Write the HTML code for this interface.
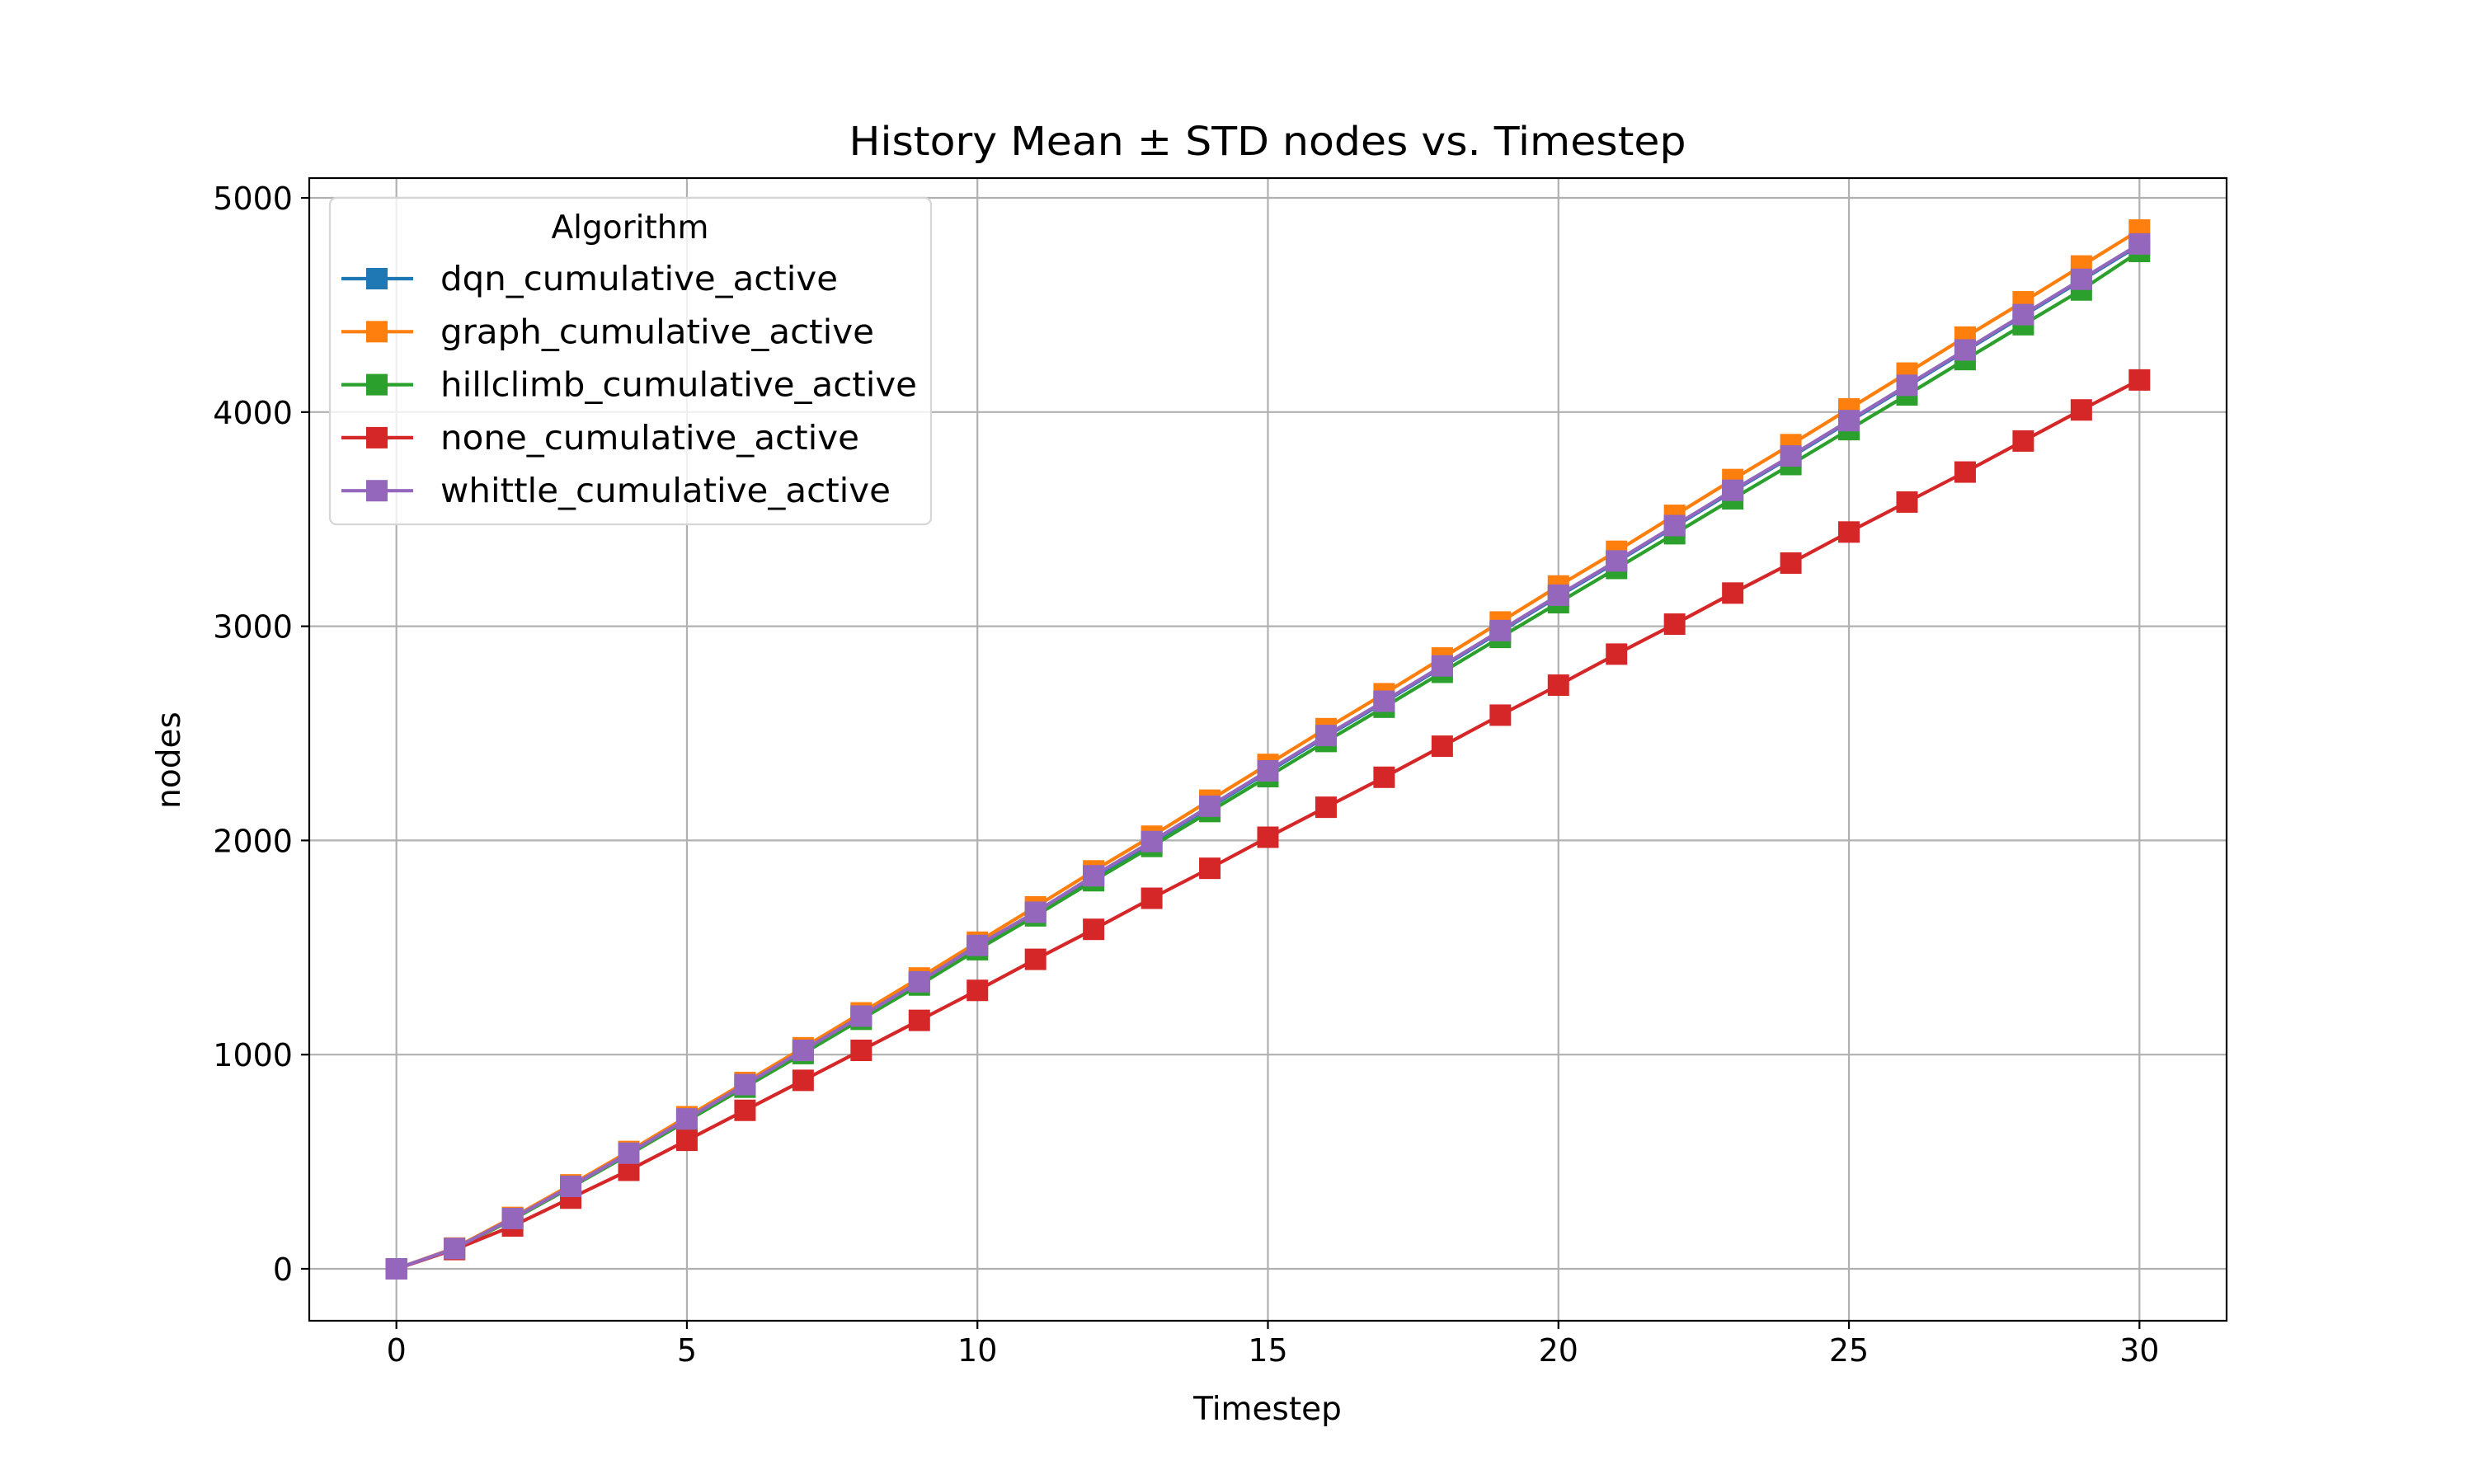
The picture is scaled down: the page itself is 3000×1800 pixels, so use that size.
<!DOCTYPE html>
<html><head><meta charset="utf-8"><style>
html,body{margin:0;padding:0;background:#fff}
svg{display:block;font-family:"DejaVu Sans","Liberation Sans",sans-serif}
</style></head><body>
<svg id="chart" width="3000" height="1800" viewBox="0 0 3000 1800" xmlns="http://www.w3.org/2000/svg">
<rect width="3000" height="1800" fill="#fff"/>
<g id="grid"></g>
<g id="series"></g>
<rect x="375" y="216" width="2325" height="1386" fill="none" stroke="#000" stroke-width="2.2"/>
<g id="ticks"></g>
<text x="1537" y="188" font-size="48" text-anchor="middle" textLength="1015" lengthAdjust="spacingAndGlyphs">History Mean ± STD nodes vs. Timestep</text>
<text x="1537" y="1722" font-size="39" text-anchor="middle">Timestep</text>
<text x="0" y="0" font-size="39" text-anchor="middle" transform="translate(218,922) rotate(-90)">nodes</text>
<g id="legend"></g>
</svg>
<script>
const timesteps = [0,1,2,3,4,5,6,7,8,9,10,11,12,13,14,15,16,17,18,19,20,21,22,23,24,25,26,27,28,29,30];
const dqnValues = [0,95,235,385,540,700,860,1020,1180,1340,1505,1665,1830,1990,2155,2320,2485,2645,2810,2975,3140,3300,3465,3630,3790,3955,4120,4285,4450,4615,4780];
const graphValues = [0,97,240,392,548,710,870,1032,1195,1358,1525,1690,1858,2020,2188,2355,2522,2685,2852,3020,3188,3350,3518,3685,3848,4015,4182,4350,4515,4682,4850];
const hillclimbValues = [0,93,230,380,533,690,848,1005,1165,1325,1490,1648,1812,1972,2135,2298,2462,2622,2785,2948,3110,3270,3432,3595,3755,3918,4080,4245,4408,4570,4750];
const noneValues = [0,90,200,330,460,600,740,880,1020,1160,1300,1445,1585,1730,1870,2015,2155,2295,2440,2585,2725,2870,3010,3155,3295,3440,3580,3720,3865,4010,4150];
const whittleValues = [0,95,235,385,540,700,860,1020,1180,1340,1510,1665,1835,1995,2160,2325,2490,2650,2815,2980,3145,3305,3470,3635,3795,3960,4125,4290,4455,4620,4785];
const seriesNames = ["dqn_cumulative_active","graph_cumulative_active","hillclimb_cumulative_active","none_cumulative_active","whittle_cumulative_active"];
const seriesColors = ["#1f77b4","#ff7f0e","#2ca02c","#d62728","#9467bd"];
const xTicks = [0,5,10,15,20,25,30];
const yTicks = [0,1000,2000,3000,4000,5000];

const NS="http://www.w3.org/2000/svg";
const L=375,R=2700,T=216,B=1602;
const allVals=[].concat(dqnValues,graphValues,hillclimbValues,noneValues,whittleValues);
const dMin=Math.min(...allVals),dMax=Math.max(...allVals);
const yMin=dMin-(dMax-dMin)*0.05,yMax=dMax+(dMax-dMin)*0.05;
const xMin=timesteps[0]-(timesteps[timesteps.length-1]-timesteps[0])*0.05;
const xMax=timesteps[timesteps.length-1]+(timesteps[timesteps.length-1]-timesteps[0])*0.05;
const sx=v=>L+(v-xMin)/(xMax-xMin)*(R-L);
const sy=v=>B-(v-yMin)/(yMax-yMin)*(B-T);
function mk(tag,attrs,parent){const e=document.createElementNS(NS,tag);for(const k in attrs)e.setAttribute(k,attrs[k]);parent.appendChild(e);return e;}
const grid=document.getElementById('grid'),ticks=document.getElementById('ticks');
xTicks.forEach(t=>{
  const g=mk('line',{x1:sx(t),x2:sx(t),y1:T,y2:B,stroke:'#b0b0b0','stroke-width':2.2},grid);
  
  
  const tk=mk('line',{x1:sx(t),x2:sx(t),y1:B,y2:B+10,stroke:'#000','stroke-width':2.2},ticks);
  
  
  const tx=mk('text',{x:sx(t),y:B+49,'font-size':38,'text-anchor':'middle'},ticks);
  tx.textContent=t;
  
  
});
yTicks.forEach(t=>{
  const g=mk('line',{x1:L,x2:R,y1:sy(t),y2:sy(t),stroke:'#b0b0b0','stroke-width':2.2},grid);
  
  
  const tk=mk('line',{x1:L-10,x2:L,y1:sy(t),y2:sy(t),stroke:'#000','stroke-width':2.2},ticks);
  
  
  const tx=mk('text',{x:L-20,y:sy(t)+14,'font-size':38,'text-anchor':'end'},ticks);
  tx.textContent=t;
  
  
});
const seriesData=[dqnValues,graphValues,hillclimbValues,noneValues,whittleValues];
const sg=document.getElementById('series');
seriesData.forEach((vals,i)=>{
  const g=mk('g',{},sg);
  
  
  const pts=vals.map((v,j)=>sx(timesteps[j])+','+sy(v)).join(' ');
  const pl=mk('polyline',{points:pts,fill:'none',stroke:seriesColors[i],'stroke-width':4.2,'stroke-linejoin':'round'},g);
  
  
  vals.forEach((v,j)=>{
    const m=mk('rect',{x:sx(timesteps[j])-13,y:sy(v)-13,width:26,height:26,fill:seriesColors[i]},g);
    
    
  });
});
const lg=document.getElementById('legend');
const box=mk('rect',{x:400,y:240,width:729,height:396,rx:8,fill:'#fff','fill-opacity':0.8,stroke:'#d6d6d6','stroke-width':2.2},lg);


const lt=mk('text',{x:764,y:289,'font-size':39,'text-anchor':'middle'},lg);
lt.textContent='Algorithm';


const legendWidths=[482,526,578,508,546];
seriesNames.forEach((n,i)=>{
  const y=338+i*64.3;
  const e=mk('g',{},lg);
  
  
  mk('line',{x1:414,x2:501,y1:y,y2:y,stroke:seriesColors[i],'stroke-width':4.2},e);
  mk('rect',{x:444,y:y-13,width:26,height:26,fill:seriesColors[i]},e);
  const t=mk('text',{x:534,y:y+14,'font-size':41,textLength:legendWidths[i],lengthAdjust:'spacingAndGlyphs'},e);
  t.textContent=n;
});
</script>
</body></html>
